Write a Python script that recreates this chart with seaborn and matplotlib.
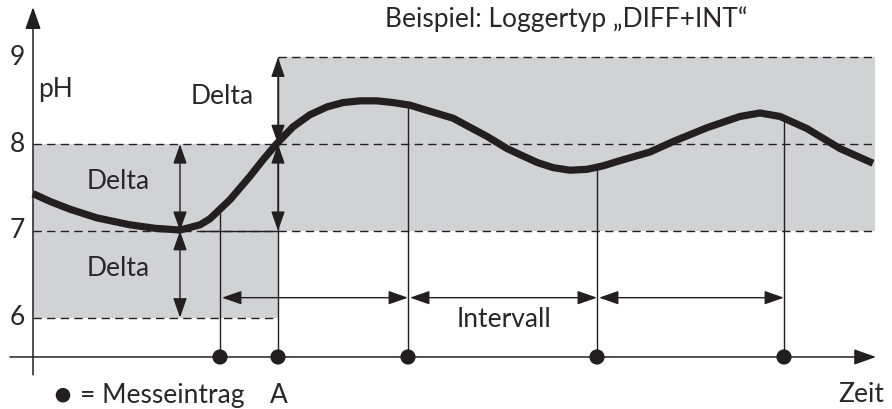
import matplotlib
matplotlib.use("Agg")
import matplotlib.pyplot as plt
import seaborn as sns
import pandas as pd

# Curve (time in px units, value in pH)
curve_t = [33, 50, 70, 97, 130, 155, 180, 200, 210, 230, 250, 263, 277, 293, 310, 327,
           343, 360, 377, 393, 410, 427, 453, 487, 507, 520, 537, 553, 570, 587, 603,
           620, 650, 673, 707, 740, 760, 780, 807, 840, 873]
curve_ph = [7.43, 7.34, 7.25, 7.15, 7.07, 7.03, 7.01, 7.07, 7.14, 7.36, 7.63, 7.82, 8.01, 8.20, 8.34, 8.43,
            8.48, 8.50, 8.50, 8.48, 8.45, 8.39, 8.30, 8.09, 7.95, 7.88, 7.79, 7.73, 7.70, 7.71, 7.75,
            7.81, 7.91, 8.03, 8.19, 8.32, 8.36, 8.32, 8.18, 7.95, 7.78]

# Measurement entries (dots on the time axis) and how far their lines reach
entry_t = [220, 278, 408, 597, 784]
entry_top = [7.21, 9.0, 8.45, 7.73, 8.32]

# Tolerance bands: (t start, t end, low, high)
bands = [(33, 278, 6, 8), (278, 875, 7, 9)]
ph_ticks = [6, 7, 8, 9]

time_axis_ph = 5.546
ink = "#231f20"
gray = "#d1d2d4"

sns.set_theme(style="white")
plt.rcParams['font.family'] = ['Lato', 'DejaVu Sans']
plt.rcParams['lines.scale_dashes'] = False

fig = plt.figure(figsize=(8.92, 4.09), dpi=100)
ax = fig.add_axes([0, 0, 1, 1])
ax.set_xlim(0, 892)
ax.set_ylim(4.946, 9.663)
ax.axis("off")

# gray bands
for t0, t1, lo, hi in bands:
    ax.fill_between([t0, t1], lo, hi, color=gray, lw=0, zorder=0)

# dashed reference lines
dash = dict(color=ink, lw=1.0, ls=(0, (6, 3.8)), zorder=1)
ax.hlines(9, 278, 875, **dash)
ax.hlines(8, 33, 875, **dash)
ax.hlines(7, 33, 875, **dash)
ax.hlines(6, 33, 278, **dash)
ax.hlines(7, 200, 278, color=ink, lw=1.0, zorder=1)

txt = dict(fontsize=19, color="#2a2627")

# tick numbers
for v in ph_ticks:
    ax.text(17, v, str(v), ha="center", va="center", **txt)

# axes arrows
arrow_axis = dict(arrowstyle="-|>,head_length=0.45,head_width=0.16", color=ink, lw=1.1,
                  mutation_scale=30, shrinkA=0, shrinkB=0)
ax.annotate("", xy=(33, 9.58), xytext=(33, 5.34), arrowprops=arrow_axis, zorder=2)
ax.annotate("", xy=(876, time_axis_ph), xytext=(10, time_axis_ph), arrowprops=arrow_axis, zorder=2)

# vertical lines of the entries
ax.vlines(entry_t, time_axis_ph, entry_top, color=ink, lw=1.0, zorder=2)

# double arrows (Delta and Intervall)
dbl = dict(arrowstyle="<|-|>,head_length=0.4,head_width=0.14", color=ink, lw=1.0,
           mutation_scale=30, shrinkA=0, shrinkB=0)
for x, lo, hi in [(180, 7, 8), (180, 6, 7), (278, 7, 8), (278, 8, 9)]:
    ax.annotate("", xy=(x, hi), xytext=(x, lo), arrowprops=dbl, zorder=3)
interval_ph = 6.23
for t0, t1 in zip(entry_t[:1] + entry_t[2:-1], entry_t[2:]):
    ax.annotate("", xy=(t1, interval_ph), xytext=(t0 + 2, interval_ph), arrowprops=dbl, zorder=3)

# the curve
curve = pd.DataFrame({"t": curve_t, "ph": curve_ph})
sns.lineplot(data=curve, x="t", y="ph", ax=ax, color=ink, lw=5.2, sort=False,
             solid_capstyle="butt", solid_joinstyle="round", zorder=4)

# entry dots
dots = pd.DataFrame({"t": entry_t, "ph": [time_axis_ph] * len(entry_t)})
sns.scatterplot(data=dots, x="t", y="ph", ax=ax, color=ink, s=120, edgecolor="none", zorder=5)
ax.scatter([63], [5.105], s=110, color=ink, edgecolor="none", zorder=5)

# labels
ax.text(38, 8.548, "pH", ha="left", va="baseline", **txt)
ax.text(222, 8.464, "Delta", ha="center", va="baseline", **txt)
ax.text(118, 7.48, "Delta", ha="center", va="baseline", **txt)
ax.text(118, 6.48, "Delta", ha="center", va="baseline", **txt)
ax.text(504, 5.888, "Intervall", ha="center", va="baseline", **txt)
ax.text(884, 5.03, "Zeit", ha="right", va="baseline", **txt)
ax.text(80, 5.02, "= Messeintrag", ha="left", va="baseline", **txt)
ax.text(279, 5.02, "A", ha="center", va="baseline", **txt)
ax.text(566, 9.348, "Beispiel: Loggertyp \u201eDIFF+INT\u201c", ha="center", va="baseline", **txt)

fig.savefig("out.png", dpi=100)
